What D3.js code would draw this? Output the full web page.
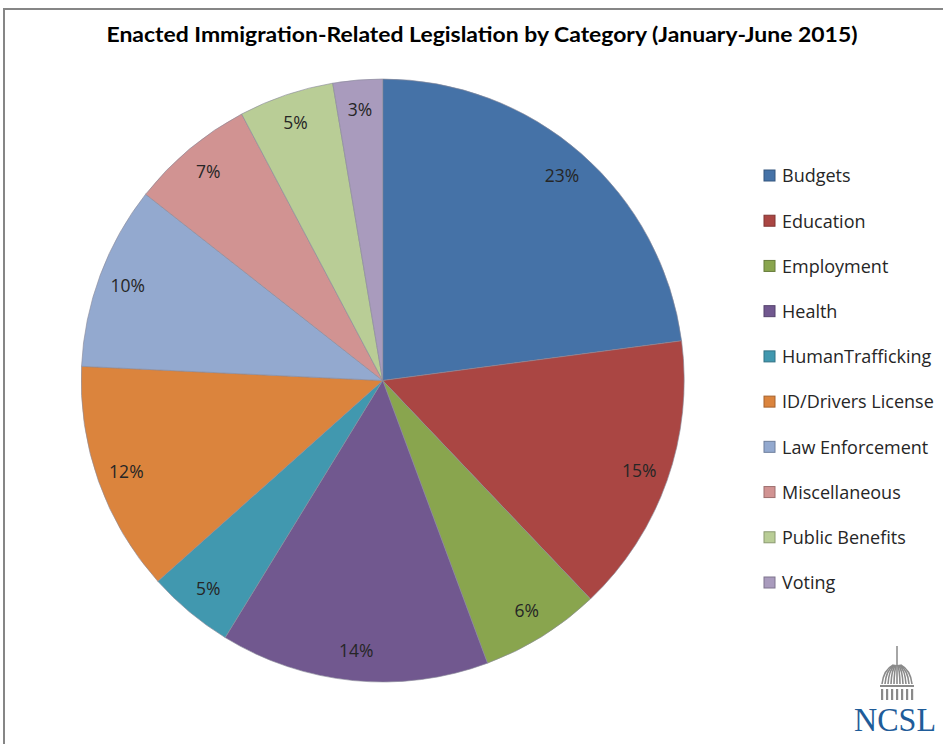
<!DOCTYPE html>
<html>
<meta charset='utf-8'>
<head>
<title>enacted immigration legislation by category</title>
<script src='https://d3js.org/d3.v7.min.js'></script>
<style>
  body { margin: 0; background: #fff; }
  text { font-family: 'Open Sans', sans-serif; fill: #000; }
</style>
</head>
<body>
<div id='chart'></div>
<script>
var categories = ['Budgets', 'Education', 'Employment', 'Health', 'HumanTrafficking',
  'ID/Drivers License', 'Law Enforcement', 'Miscellaneous', 'Public Benefits', 'Voting']
var shares = [22.9, 15.0, 6.45, 14.4, 4.65, 12.35, 9.85, 6.65, 5.1, 2.65]
var colors = ['#4572A7', '#AA4643', '#89A54E', '#71588F', '#4198AF',
  '#DB843D', '#93A9CF', '#D19392', '#B9CD96', '#A99BBD']
var title = 'Enacted Immigration-Related Legislation by Category (January-June 2015)'

var width = 943, height = 744
var cx = 382.7, cy = 380.5, radius = 301.5

var svg = d3.select('#chart')
  .append('svg')
    .attr('width', width)
    .attr('height', height)

// chart frame
svg.append('rect')
  .attr('x', 4).attr('y', 9)
  .attr('width', width + 20).attr('height', height + 20)
  .attr('fill', 'none')
  .attr('stroke', '#868686')
  .attr('stroke-width', 2)

svg.append('text')
  .attr('x', 482).attr('y', 42)
  .attr('text-anchor', 'middle')
  .attr('font-size', 21)
  .attr('font-weight', 'bold')
  .attr('textLength', 751)
  .attr('lengthAdjust', 'spacingAndGlyphs')
  .style('font-family', "Lato, 'Open Sans', sans-serif")
  .text(title)

var data = categories.map(function(c, i) { return {name: c, value: shares[i]} })

var pie = d3.pie()
  .value(function(d) { return d.value })
  .sort(null)

var arc = d3.arc().innerRadius(0).outerRadius(radius)
var labelArc = d3.arc().innerRadius(272).outerRadius(272)

var color = d3.scaleOrdinal().domain(categories).range(colors)
var total = d3.sum(shares)

var g = svg.append('g')
  .attr('transform', 'translate(' + cx + ',' + cy + ')')

var arcs = pie(data)

g.selectAll('path')
  .data(arcs)
  .enter()
  .append('path')
    .attr('d', arc)
    .attr('fill', function(d) { return color(d.data.name) })
    .attr('stroke', '#8a8a9a')
    .attr('stroke-width', 0.8)
    .attr('stroke-opacity', 0.8)

g.selectAll('.lbl')
  .data(arcs)
  .enter()
  .append('text')
    .attr('class', 'lbl')
    .attr('transform', function(d) { return 'translate(' + labelArc.centroid(d) + ')' })
    .attr('text-anchor', 'middle')
    .attr('dy', '0.35em')
    .attr('font-size', 17.5)
    .style('fill', '#262626')
    .text(function(d) { return Math.round(d.data.value / total * 100) + '%' })

// legend
var legendY = d3.scalePoint()
  .domain(categories)
  .range([176, 583])

var legend = svg.append('g')
legend.selectAll('rect')
  .data(categories)
  .enter()
  .append('rect')
    .attr('x', 764)
    .attr('y', function(d) { return legendY(d) - 6 })
    .attr('width', 11).attr('height', 11)
    .attr('fill', function(d) { return color(d) })
    .attr('stroke', function(d) { return d3.color(color(d)).darker(0.8) })
    .attr('stroke-width', 1)

legend.selectAll('text')
  .data(categories)
  .enter()
  .append('text')
    .attr('x', 782)
    .attr('y', function(d) { return legendY(d) })
    .attr('dy', '0.35em')
    .attr('font-size', 18)
    .style('fill', '#262626')
    .text(function(d) { return d })

// NCSL logo
var logo = svg.append('g').attr('transform', 'translate(897,0)')
logo.append('line')
  .attr('x1', 0).attr('x2', 0).attr('y1', 646).attr('y2', 666)
  .attr('stroke', '#888').attr('stroke-width', 1.5)
var domeRibs = d3.range(-15, 16, 3)
logo.selectAll('.rib')
  .data(domeRibs)
  .enter()
  .append('path')
    .attr('class', 'rib')
    .attr('d', function(d) { return 'M' + (d * 0.25) + ',665 Q' + (d * 0.9) + ',670 ' + d + ',684' })
    .attr('fill', 'none')
    .attr('stroke', '#8a8a8a')
    .attr('stroke-width', 1.6)
logo.append('rect')
  .attr('x', -17).attr('y', 685).attr('width', 34).attr('height', 2)
  .attr('fill', '#8a8a8a')
logo.selectAll('.col')
  .data(d3.range(-15, 16, 5))
  .enter()
  .append('rect')
    .attr('class', 'col')
    .attr('x', function(d) { return d - 1 })
    .attr('y', 689).attr('width', 2.2).attr('height', 11)
    .attr('fill', '#8a8a8a')
svg.append('text')
  .attr('x', 854).attr('y', 731)
  .attr('font-size', 33)
  .attr('textLength', 82)
  .attr('lengthAdjust', 'spacingAndGlyphs')
  .style('font-family', "'Liberation Serif', 'DejaVu Serif', serif")
  .style('fill', '#1f5c99')
  .text('NCSL')
</script>
</body>
</html>
